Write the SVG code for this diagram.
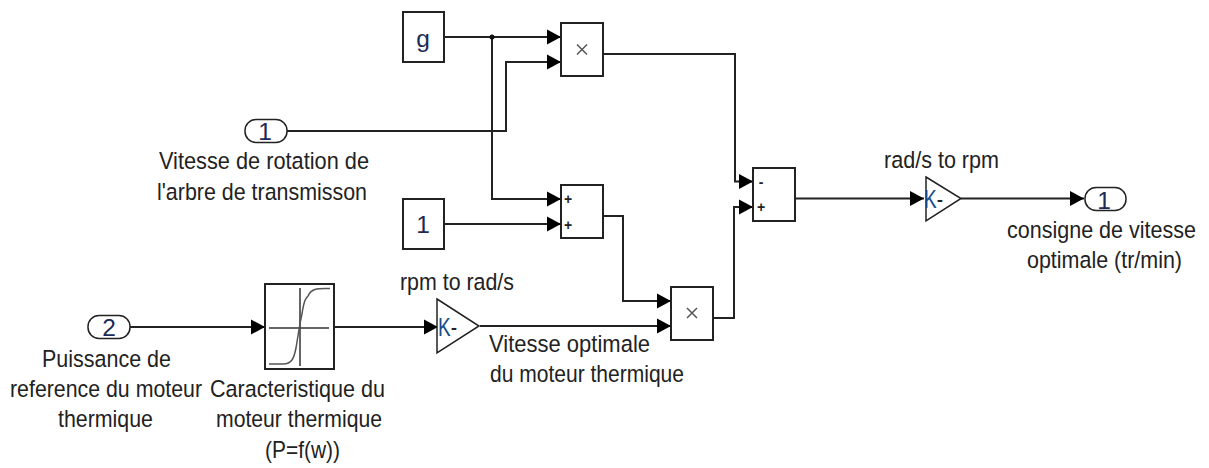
<svg xmlns="http://www.w3.org/2000/svg" width="1209" height="468" viewBox="0 0 1209 468">
<defs>
<marker id="a" markerUnits="userSpaceOnUse" markerWidth="14" markerHeight="16" refX="14" refY="8" orient="auto"><path d="M0 0.500L14 8L0 15.500Z" fill="#000"/></marker>
</defs>
<style>
text{font-family:"Liberation Sans",Arial,sans-serif;fill:#222}
.l{font-size:24.500px}
.m{text-anchor:middle}
.d{font-size:24.500px;text-anchor:middle;fill:#1c2a55}
.p{font-size:14px;font-weight:bold;text-anchor:middle}
.b{fill:#fff;stroke:#222;stroke-width:2}
.t{fill:#fff;stroke:#222;stroke-width:1.500}
.c{fill:none;stroke:#222;stroke-width:2}
.k{fill:none;stroke:#333;stroke-width:1.500}
.g{fill:none;stroke:#555;stroke-width:1.500}
.q{font-size:26px;fill:#222}
</style>
<rect width="1209" height="468" fill="#fff"/>
<g id="connectors">
<path class="c" marker-end="url(#a)" d="M445 37H561"/>
<path class="c" marker-end="url(#a)" d="M286 131H506V62H561"/>
<path class="c" marker-end="url(#a)" d="M492 37V199H561"/>
<path class="c" marker-end="url(#a)" d="M445 224H561"/>
<path class="c" marker-end="url(#a)" d="M603 54H735V181.500H753"/>
<path class="c" marker-end="url(#a)" d="M603 216H623V301H671"/>
<path class="c" marker-end="url(#a)" d="M130 327H265"/>
<path class="c" marker-end="url(#a)" d="M335 327H438"/>
<path class="c" marker-end="url(#a)" d="M480 326H671"/>
<path class="c" marker-end="url(#a)" d="M713 318H734V207H753"/>
<path class="c" marker-end="url(#a)" d="M796 198.500H924"/>
<path class="c" marker-end="url(#a)" d="M961 198.500H1084"/>
<circle cx="492" cy="37" r="2.500" fill="#111"/>
</g>
<g id="g-const"><rect class="b" x="403" y="12" width="41" height="50"/><text class="d" x="423" y="47">g</text></g>
<g id="one-const"><rect class="b" x="403" y="199" width="41" height="50"/><text class="d" x="423" y="233">1</text></g>
<g id="prod1"><rect class="b" x="561" y="23" width="42" height="53"/><path class="g" d="M577 44.500l10 10M587 44.500l-10 10"/></g>
<g id="sum1"><rect class="b" x="561" y="185" width="42" height="53"/><text class="p" x="568" y="204">+</text><text class="p" x="568" y="230">+</text></g>
<g id="prod2"><rect class="b" x="671" y="287" width="42" height="53"/><path class="g" d="M687 308l10 10M697 308l-10 10"/></g>
<g id="sum2"><rect class="b" x="753" y="168" width="42" height="53"/><text class="p" x="761" y="187">-</text><text class="p" x="761" y="212">+</text></g>
<g id="in1"><rect class="t" x="245" y="119.500" width="42" height="23" rx="11"/><text class="d" x="265" y="140">1</text></g>
<g id="in2"><rect class="t" x="88" y="315.500" width="42" height="23" rx="11"/><text class="d" x="109" y="336">2</text></g>
<g id="out1"><rect class="t" x="1085" y="187.500" width="41" height="23" rx="11"/><text class="d" x="1104" y="209">1</text></g>
<g id="lookup"><rect class="b" x="265" y="284" width="69" height="85"/><path class="k" d="M269 328H329M300 288V366"/><path class="g" d="M269 364H283C292 364 294 358 296 348C298 336 300 322 302 314C304 300 306 298 308 296C311 289 316 288 330 288.500"/></g>
<g id="gain1"><path class="t" d="M437 299L479 326L437 353Z"/><text class="q" x="438" y="336" textLength="19" lengthAdjust="spacingAndGlyphs"><tspan style="fill:#124a8a">K</tspan>-</text></g>
<g id="gain2"><path class="t" d="M926 177L961 198.500L926 221Z"/><text class="q" x="924" y="208" textLength="19" lengthAdjust="spacingAndGlyphs"><tspan style="fill:#124a8a">K</tspan>-</text></g>
<g id="labels">
<text class="l" x="159" y="169" textLength="210" lengthAdjust="spacingAndGlyphs">Vitesse de rotation de</text>
<text class="l" x="157" y="200" textLength="210" lengthAdjust="spacingAndGlyphs">l'arbre de transmisson</text>
<text class="l" x="42" y="367" textLength="129" lengthAdjust="spacingAndGlyphs">Puissance de</text>
<text class="l" x="10" y="397" textLength="192" lengthAdjust="spacingAndGlyphs">reference du moteur</text>
<text class="l" x="58" y="427" textLength="95" lengthAdjust="spacingAndGlyphs">thermique</text>
<text class="l" x="210" y="397" textLength="175" lengthAdjust="spacingAndGlyphs">Caracteristique du</text>
<text class="l" x="216" y="427" textLength="166" lengthAdjust="spacingAndGlyphs">moteur thermique</text>
<text class="l" x="265" y="458" textLength="75" lengthAdjust="spacingAndGlyphs">(P=f(w))</text>
<text class="l" x="400" y="290" textLength="114" lengthAdjust="spacingAndGlyphs">rpm to rad/s</text>
<text class="l" x="489" y="352" textLength="161" lengthAdjust="spacingAndGlyphs">Vitesse optimale</text>
<text class="l" x="490" y="382" textLength="194" lengthAdjust="spacingAndGlyphs">du moteur thermique</text>
<text class="l" x="884" y="168" textLength="115" lengthAdjust="spacingAndGlyphs">rad/s to rpm</text>
<text class="l" x="1007" y="238" textLength="189" lengthAdjust="spacingAndGlyphs">consigne de vitesse</text>
<text class="l" x="1027" y="268" textLength="155" lengthAdjust="spacingAndGlyphs">optimale (tr/min)</text>
</g>
</svg>
